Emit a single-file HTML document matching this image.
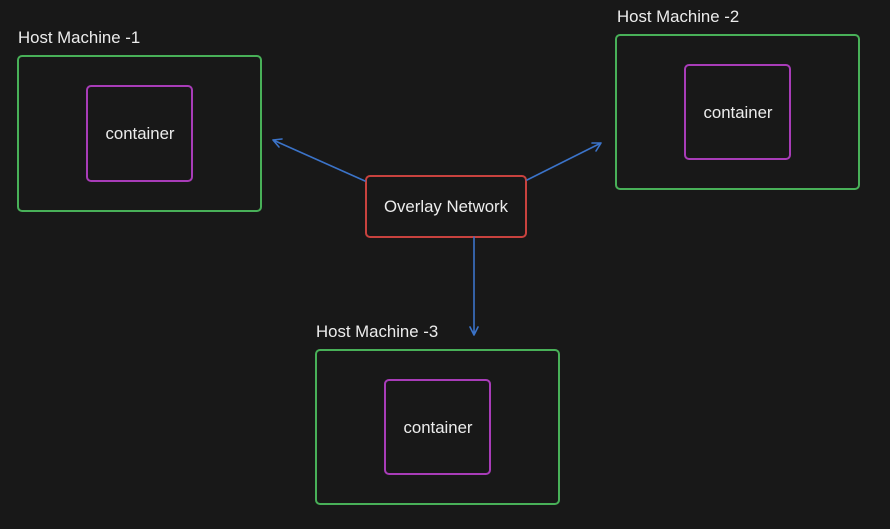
<!DOCTYPE html>
<html><head><meta charset="utf-8"><style>
html,body{margin:0;padding:0;background:#181818;width:890px;height:529px;overflow:hidden}
svg text{font-family:"Liberation Sans",sans-serif;fill:#ececec}
</style></head><body>
<svg width="890" height="529" xmlns="http://www.w3.org/2000/svg">
<rect width="890" height="529" fill="#181818"/>
<g fill="none" stroke-width="2" stroke-linecap="round" stroke-linejoin="round">
<rect x="18" y="56" width="243" height="155" rx="4" stroke="#48b058"/>
<rect x="616" y="35" width="243" height="154" rx="4" stroke="#48b058"/>
<rect x="316" y="350" width="243" height="154" rx="4" stroke="#48b058"/>
<rect x="87" y="86" width="105" height="95" rx="4" stroke="#a83cb8"/>
<rect x="685" y="65" width="105" height="94" rx="4" stroke="#a83cb8"/>
<rect x="385" y="380" width="105" height="94" rx="4" stroke="#a83cb8"/>
<rect x="366" y="176" width="160" height="61" rx="4" stroke="#c8423e"/>
<g stroke="#3b73c8" stroke-width="1.6">
<path d="M365 181 L273 140 M273 140 L282 139 M273 140 L279 147"/>
<path d="M527 180 L601 143 M601 143 L592 143 M601 143 L596 151"/>
<path d="M474 237 L474 335 M474 335 L470 327 M474 335 L478 327"/>
</g>
</g>
<g font-size="16.8">
<text x="18" y="43">Host Machine -1</text>
<text x="617" y="22">Host Machine -2</text>
<text x="316" y="337">Host Machine -3</text>
<text x="140" y="139" text-anchor="middle">container</text>
<text x="738" y="118" text-anchor="middle">container</text>
<text x="438" y="433" text-anchor="middle">container</text>
<text x="446" y="212" text-anchor="middle">Overlay Network</text>
</g>
</svg>
</body></html>
